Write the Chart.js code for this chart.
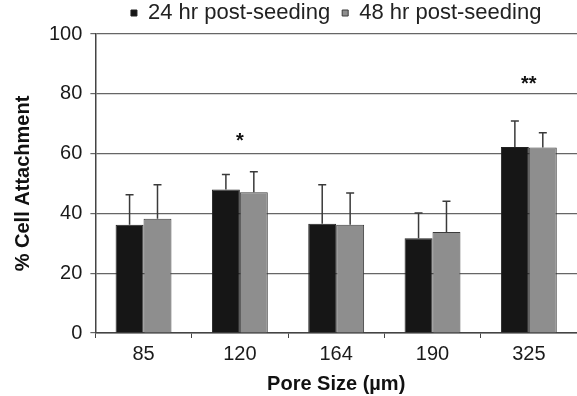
<!DOCTYPE html>
<html>
<head>
<meta charset="utf-8">
<script src="https://cdn.jsdelivr.net/npm/chart.js@4"></script>
<style>
  html, body { margin: 0; padding: 0; background: #fff; overflow: hidden; }
  #wrap { width: 577px; height: 396px; }
</style>
</head>
<body>
<div id="wrap"><canvas id="cellChart" width="577" height="396"></canvas></div>
<script>
// pore sizes (µm)
const poreSizes = ['85', '120', '164', '190', '325'];

const attach24 = [36.2, 48.0, 36.5, 31.7, 62.2];
const err24 = [10.0, 5.0, 13.1, 8.4, 8.7];

const attach48 = [38.2, 47.1, 36.2, 33.8, 62.0];
const err48 = [11.4, 6.8, 10.6, 10.3, 5.0];

// significance marks and the level they sit at
const sigMarks = ['', '*', '', '', '**'];
const sigLevel = [null, 64, null, null, 83];

const yTicks = [0, 20, 40, 60, 80, 100];

const FONT = "'Liberation Sans', Arial, sans-serif";

const errorBars = {
    id: 'errorBars',
    afterDatasetsDraw: function(chart) {
        const ctx = chart.ctx;
        const yScale = chart.scales.y;
        const xScale = chart.scales.x;
        ctx.save();
        ctx.strokeStyle = '#3a3a3a';
        ctx.lineWidth = 1.5;
        chart.data.datasets.forEach((ds, i) => {
            const meta = chart.getDatasetMeta(i);
            meta.data.forEach((bar, j) => {
                const top = yScale.getPixelForValue(ds.data[j] + ds.errors[j]);
                ctx.beginPath();
                ctx.moveTo(bar.x, bar.y);
                ctx.lineTo(bar.x, top);
                ctx.moveTo(bar.x - 4, top);
                ctx.lineTo(bar.x + 4, top);
                ctx.stroke();
            });
        });
        ctx.fillStyle = '#111';
        ctx.font = 'bold 20px ' + FONT;
        ctx.textAlign = 'center';
        ctx.textBaseline = 'middle';
        sigMarks.forEach((m, j) => {
            if (!m) return;
            ctx.fillText(m, xScale.getPixelForValue(j), yScale.getPixelForValue(sigLevel[j]));
        });
        ctx.restore();
    }
};

new Chart(document.getElementById('cellChart'), {
    type: 'bar',
    data: {
        labels: poreSizes,
        datasets: [{
            label: '24 hr post-seeding',
            data: attach24,
            errors: err24,
            backgroundColor: '#161616',
            borderColor: '#222',
            borderWidth: 1
        }, {
            label: '48 hr post-seeding',
            data: attach48,
            errors: err48,
            backgroundColor: '#8e8e8e',
            borderColor: '#3c3c3c',
            borderWidth: 1
        }]
    },
    options: {
        responsive: false,
        animation: false,
        layout: { padding: { left: 11, right: 0, top: -10, bottom: 0 } },
        datasets: {
            bar: { categoryPercentage: 0.58, barPercentage: 1.0 }
        },
        plugins: {
            legend: {
                position: 'top',
                fullSize: false,
                labels: {
                    font: { family: FONT, size: 22 },
                    color: '#222',
                    boxWidth: 6,
                    boxHeight: 6,
                    padding: 12
                }
            },
            tooltip: { enabled: false }
        },
        scales: {
            x: {
                grid: {
                    drawOnChartArea: false,
                    drawTicks: true,
                    tickLength: 5,
                    color: '#444'
                },
                border: { color: '#444', width: 1.5 },
                ticks: {
                    font: { family: FONT, size: 20 },
                    color: '#1a1a1a',
                    padding: 4
                },
                title: {
                    display: true,
                    text: 'Pore Size (µm)',
                    font: { family: FONT, size: 20, weight: 'bold' },
                    color: '#111',
                    padding: { top: 2, bottom: 0 }
                }
            },
            y: {
                min: 0,
                max: 100,
                afterBuildTicks: function(scale) {
                    scale.ticks = yTicks.map(v => ({ value: v }));
                },
                grid: {
                    color: '#666',
                    lineWidth: 1.2,
                    tickLength: 5
                },
                border: { color: '#444', width: 1.5 },
                ticks: {
                    font: { family: FONT, size: 20 },
                    color: '#1a1a1a',
                    padding: 8
                },
                title: {
                    display: true,
                    text: '% Cell Attachment',
                    font: { family: FONT, size: 20, weight: 'bold' },
                    color: '#111',
                    padding: { top: 0, bottom: 6 }
                }
            }
        }
    },
    plugins: [errorBars]
});
</script>
</body>
</html>
